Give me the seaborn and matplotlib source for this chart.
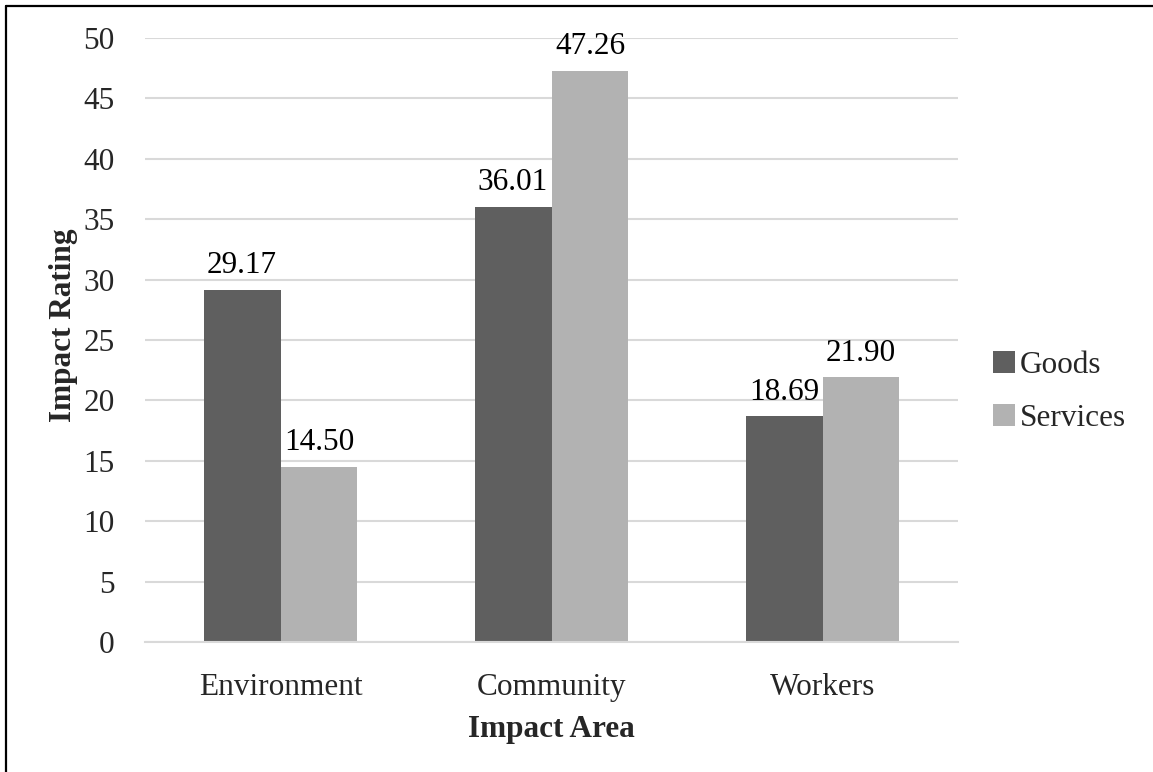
import matplotlib
matplotlib.use("Agg")
import matplotlib.pyplot as plt
import seaborn as sns
import pandas as pd
from matplotlib.lines import Line2D
from matplotlib.patches import Patch

categories = ["Environment", "Community", "Workers"]
series_names = ["Goods", "Services"]
goods = [29.17, 36.01, 18.69]
services = [14.50, 47.26, 21.90]
yticks = [0, 5, 10, 15, 20, 25, 30, 35, 40, 45, 50]

df = pd.DataFrame({
    "Impact Area": categories * 2,
    "Series": [series_names[0]] * 3 + [series_names[1]] * 3,
    "Impact Rating": goods + services,
})

sns.set_theme(style="white")
plt.rcParams["font.family"] = ["Liberation Serif", "DejaVu Serif"]

W, H = 1153, 772
fig = plt.figure(figsize=(W / 100, H / 100), dpi=100)
ax = fig.add_axes([145 / W, 1 - 642 / H, (958 - 145) / W, (642 - 38) / H])

colors = {"Goods": "#5f5f5f", "Services": "#b2b2b2"}
sns.barplot(data=df, x="Impact Area", y="Impact Rating", hue="Series",
            palette=colors, width=0.568, ax=ax, legend=False,
            saturation=1, edgecolor="none", linewidth=0)

for cont in ax.containers:
    ax.bar_label(cont, fmt="%.2f", padding=7, fontsize=22.5, color="black")

ax.set_ylim(0, 50)
ax.set_yticks(yticks)
ax.set_yticklabels([str(t) for t in yticks], fontsize=22.5)
ax.tick_params(axis="x", labelsize=22.5, length=0, pad=22)
ax.tick_params(axis="y", length=0, pad=22)
ax.yaxis.grid(True, color="#d9d9d9", linewidth=1.5)
ax.set_axisbelow(True)
for s in ["top", "right", "left"]:
    ax.spines[s].set_visible(False)
ax.spines["bottom"].set_color("#d9d9d9")
ax.spines["bottom"].set_linewidth(1.5)
ax.set_xlim(-0.5, 2.5)

ax.set_xlabel("Impact Area", fontsize=22.5, fontweight="bold", labelpad=10)
ax.set_ylabel("Impact Rating", fontsize=22.5, fontweight="bold")
ax.yaxis.set_label_coords(-0.0825, 0.525)

handles = [Patch(facecolor=colors[n], edgecolor="none") for n in series_names]
fig.legend(handles, series_names, loc="center left",
           bbox_to_anchor=(965 / W, 1 - 392 / H), frameon=False,
           fontsize=22.5, handlelength=0.7, handleheight=0.7,
           handletextpad=0.15, labelspacing=0.75)

# outer frame (top and left edges visible)
fig.add_artist(Line2D([6 / W, 1.0], [1 - 6 / H, 1 - 6 / H], color="black", linewidth=1.6, transform=fig.transFigure))
fig.add_artist(Line2D([6 / W, 6 / W], [0, 1 - 6 / H], color="black", linewidth=1.6, transform=fig.transFigure))

fig.savefig("out.png", dpi=100, facecolor="white")
